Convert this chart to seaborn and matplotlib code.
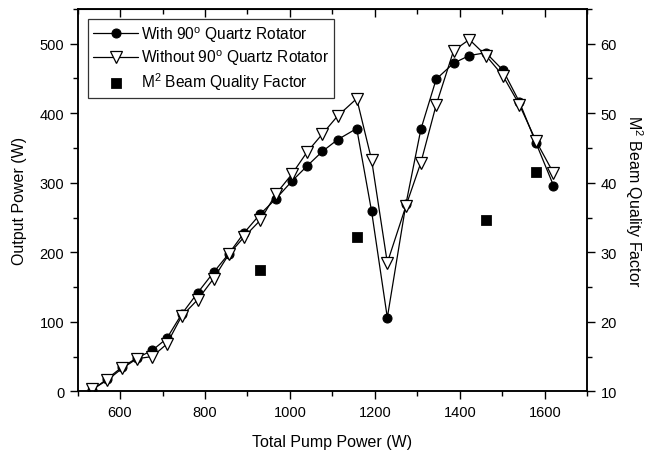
import matplotlib
matplotlib.use("Agg")
import matplotlib.pyplot as plt
import seaborn as sns
import pandas as pd
from matplotlib.ticker import MultipleLocator

pump_power = [535, 570, 605, 640, 676, 710, 745, 783, 820, 856, 892, 930, 967, 1004, 1040,
              1076, 1112, 1157, 1192, 1229, 1273, 1308, 1344, 1385, 1422, 1461, 1501, 1540, 1579, 1620]
with_rotator = [2, 18, 35, 48, 59, 76, 111, 142, 171, 198, 228, 255, 277, 302, 324,
                345, 362, 378, 259, 106, 270, 377, 449, 472, 483, 487, 462, 416, 357, 296]
without_rotator = [3, 16, 33, 47, 50, 68, 108, 132, 162, 197, 222, 246, 284, 312, 344,
                   370, 396, 421, 333, 185, 267, 329, 412, 490, 506, 483, 454, 412, 360, 314]
m2_power = [930, 1157, 1461, 1579]
m2_factor = [27.5, 32.2, 34.7, 41.5]

labels = ["With 90$^\\mathrm{o}$ Quartz Rotator",
          "Without 90$^\\mathrm{o}$ Quartz Rotator",
          "M$^2$ Beam Quality Factor"]

sns.set_style("ticks")
plt.rcParams['font.family'] = ['Liberation Sans', 'DejaVu Sans']
plt.rcParams['mathtext.fontset'] = 'custom'
plt.rcParams['mathtext.rm'] = 'Liberation Sans'
for k in ("text.color", "axes.labelcolor", "xtick.color", "ytick.color",
          "xtick.labelcolor", "ytick.labelcolor"):
    plt.rcParams[k] = "black"

df = pd.DataFrame({"x": pump_power, "w": with_rotator, "wo": without_rotator})
dm = pd.DataFrame({"x": m2_power, "m": m2_factor})

fig = plt.figure(figsize=(6.47, 4.52), dpi=100)
ax = fig.add_axes([0.1198, 0.132, 0.908 - 0.1198, 0.978 - 0.132])

sns.lineplot(data=df, x="x", y="w", ax=ax, sort=False, estimator=None, color="black",
             linewidth=0.9, marker="o", markersize=6.5, markerfacecolor="black",
             markeredgecolor="black", label=labels[0])
sns.lineplot(data=df, x="x", y="wo", ax=ax, sort=False, estimator=None, color="black",
             linewidth=0.9, marker="v", markersize=8, markerfacecolor="white",
             markeredgecolor="black", markeredgewidth=0.9, label=labels[1])

ax2 = ax.twinx()
sns.scatterplot(data=dm, x="x", y="m", ax=ax2, marker="s", s=50, color="black",
                edgecolor="black", label=labels[2])

ax.set_xlim(500, 1700)
ax.set_ylim(0, 550)
ax2.set_ylim(10, 65)

ax.xaxis.set_major_locator(MultipleLocator(200))
ax.xaxis.set_minor_locator(MultipleLocator(100))
ax.yaxis.set_major_locator(MultipleLocator(100))
ax.yaxis.set_minor_locator(MultipleLocator(50))
ax2.yaxis.set_major_locator(MultipleLocator(10))
ax2.yaxis.set_minor_locator(MultipleLocator(5))

ax.tick_params(axis="x", which="both", direction="out", bottom=True, top=False, labeltop=False)
ax.tick_params(axis="x", which="major", length=6, width=1, labelsize=10.5)
ax.tick_params(axis="x", which="minor", length=3.5, width=1)
ax.tick_params(axis="y", which="major", direction="out", length=6, width=1, labelsize=10.5)
ax.tick_params(axis="y", which="minor", direction="out", length=3.5, width=1)
ax2.tick_params(axis="y", which="major", direction="out", length=6, width=1, labelsize=10.5)
ax2.tick_params(axis="y", which="minor", direction="out", length=3.5, width=1)

# top axis ticks pointing inward
sec = ax.secondary_xaxis("top")
sec.xaxis.set_major_locator(MultipleLocator(200))
sec.xaxis.set_minor_locator(MultipleLocator(100))
sec.tick_params(axis="x", which="major", direction="in", length=6, width=1, labeltop=False)
sec.tick_params(axis="x", which="minor", direction="in", length=3.5, width=1)

for a in (ax, ax2):
    for s in a.spines.values():
        s.set_linewidth(1.1)
        s.set_color("black")

ax.set_xlabel("Total Pump Power (W)", fontsize=11.5, labelpad=11)
ax.set_ylabel("Output Power (W)", fontsize=11.5, labelpad=9)
ax2.set_ylabel("M$^2$ Beam Quality Factor", fontsize=11.5, rotation=270, labelpad=20)

h1, l1 = ax.get_legend_handles_labels()
h2, l2 = ax2.get_legend_handles_labels()
if ax2.get_legend() is not None:
    ax2.get_legend().remove()
if ax.get_legend() is not None:
    ax.get_legend().remove()
leg = ax2.legend(h1 + h2, l1 + l2, loc="upper left", bbox_to_anchor=(0.02, 0.974),
                 frameon=True, fancybox=False, edgecolor="black", fontsize=11.2,
                 handlelength=2.9, borderpad=0.35, labelspacing=0.22, handletextpad=0.15,
                 borderaxespad=0)
leg.get_frame().set_linewidth(0.9)

fig.savefig("out.png", dpi=100)
